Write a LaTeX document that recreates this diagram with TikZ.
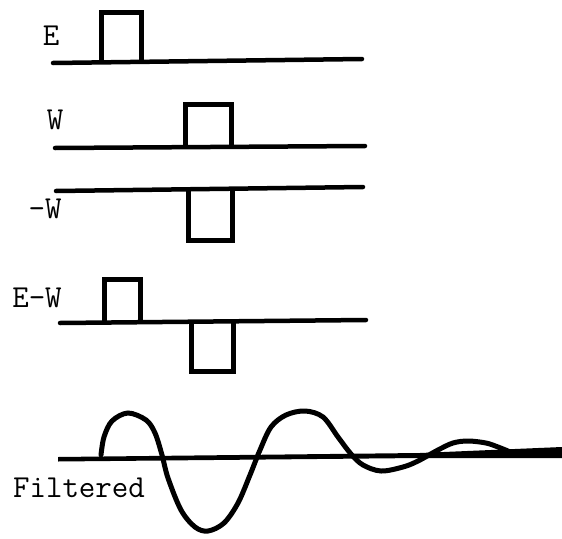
\documentclass[tikz,border=0pt]{standalone}
\usepackage{tikz}

\begin{document}
\begin{tikzpicture}[x=1pt, y=-1pt,
    base/.style={line width=4.5pt, line cap=round},
    pulse/.style={line width=5pt, line join=miter},
    wave/.style={line width=5pt, line cap=round},
    lbl/.style={anchor=base, inner sep=0pt, font=\fontsize{32}{32}\selectfont\ttfamily}]
  \useasboundingbox (0,0) rectangle (562,538);

  % labels
  \node[lbl] (E) at (51,45) {E};
  \node[lbl] (W) at (55,129) {W};
  \node[lbl] (mW) at (45,218) {-W};
  \node[lbl] (EW) at (37,307) {E-W};
  \node[lbl] (filt) at (79,497) {Filtered};

  % E
  \draw[base] (53,63) -- (362,59);
  \draw[pulse] (101,62) -- (101,12) -- (141,12) -- (141,61);
  % W
  \draw[base] (55,148) -- (365,146);
  \draw[pulse] (185,147) -- (185,104) -- (231,104) -- (231,146);
  % -W
  \draw[base] (56,191) -- (363,187);
  \draw[pulse] (188,189) -- (188,240) -- (232,240) -- (232,188);
  % E-W
  \draw[base] (60,323) -- (366,320);
  \draw[pulse] (104,322) -- (104,279) -- (140,279) -- (140,322);
  \draw[pulse] (191,321) -- (191,371) -- (233,371) -- (233,321);

  % filtered
  \fill (58,457) -- (420,453) -- (562,447) -- (562,458) -- (420,458) -- (58,461.5) -- cycle;
  \draw[wave] plot[smooth, tension=0.55] coordinates {
    (101,455) (104,437) (112,421) (128,413) (146,420) (155,433) (162,455)
    (168,478) (181,510) (195,527) (208,531) (224,523) (238,503) (250,475)
    (260,450) (271,427) (286,415) (305,411) (323,417) (338,437) (351,454)
    (363,465) (381,471) (403,467) (418,461) (438,450) (453,443) (468,441)
    (486,443) (498,447) (508,451)};
\end{tikzpicture}
\end{document}
